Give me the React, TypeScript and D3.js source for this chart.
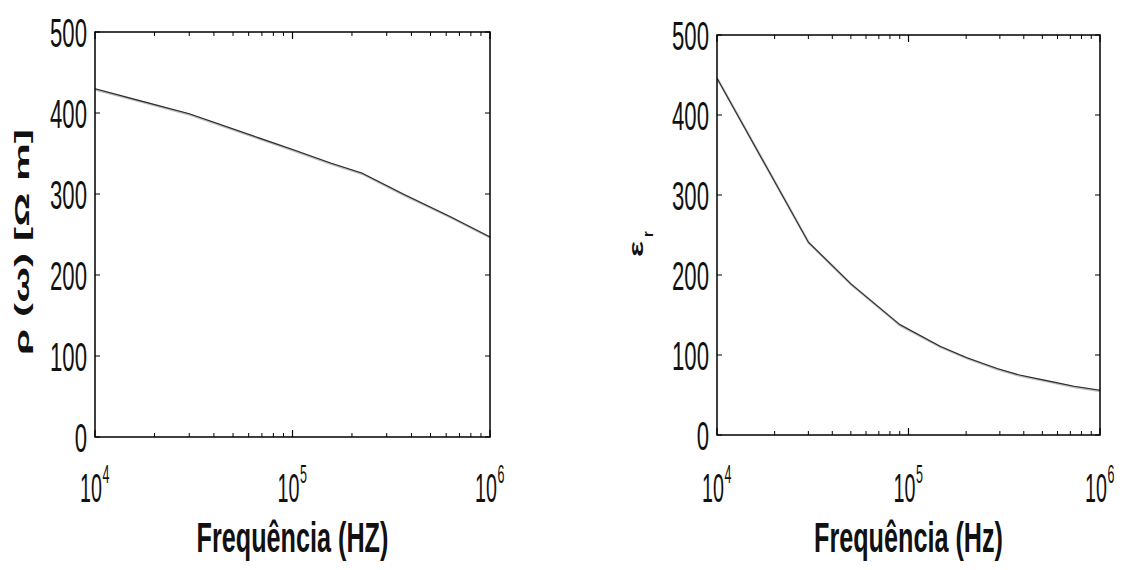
import React from "react";
import * as d3 from "d3";

const freqLeft = [1e4, 1.7e4, 3e4, 6.8e4, 1e5, 1.57e5, 2.24e5, 3.63e5, 6.3e5, 1e6];
const rhoValues = [430, 415, 399, 369, 355, 338, 326, 300, 272, 247];

const freqRight = [1e4, 3e4, 5e4, 9e4, 1.46e5, 2e5, 2.9e5, 3.8e5, 5.5e5, 7.3e5, 1e6];
const epsValues = [446, 241, 189, 138, 111, 97, 83, 75, 67, 61, 56];

const yTicks = [0, 100, 200, 300, 400, 500];
const xMajor = [1e4, 1e5, 1e6];
const xExp = ["4", "5", "6"];

const FONT = "Liberation Sans, Arial, sans-serif";

type PanelProps = {
  left: number; right: number; top: number; bottom: number;
  xs: number[]; ys: number[]; xTitle: string;
};

function Panel({ left, right, top, bottom, xs, ys, xTitle }: PanelProps) {
  const x = d3.scaleLog().domain([1e4, 1e6]).range([left, right]);
  const y = d3.scaleLinear().domain([0, 500]).range([bottom, top]);
  const minor: number[] = [];
  for (const dec of [1e4, 1e5]) for (let k = 2; k <= 9; k++) minor.push(dec * k);
  const line = d3.line<number>().x((_, i) => x(xs[i])).y((d) => y(d));
  const d = line(ys) || "";
  const fs = 41;
  return (
    <g>
      <path d={d} fill="none" stroke="#bdbdbd" strokeWidth={2.4} transform="translate(0.6,0.8)" />
      <path d={d} fill="none" stroke="#2a2a2a" strokeWidth={1.1} />
      <rect x={left} y={top} width={right - left} height={bottom - top} fill="none" stroke="#000" strokeWidth={1.5} />
      {minor.map((v) => (
        <g key={v}>
          <line x1={x(v)} x2={x(v)} y1={bottom} y2={bottom - 4} stroke="#000" />
          <line x1={x(v)} x2={x(v)} y1={top} y2={top + 4} stroke="#000" />
        </g>
      ))}
      {xMajor.map((v) => (
        <g key={v}>
          <line x1={x(v)} x2={x(v)} y1={bottom} y2={bottom - 7} stroke="#000" strokeWidth={1.2} />
          <line x1={x(v)} x2={x(v)} y1={top} y2={top + 7} stroke="#000" strokeWidth={1.2} />
        </g>
      ))}
      {yTicks.map((v) => (
        <g key={v}>
          <line x1={left} x2={left + 5} y1={y(v)} y2={y(v)} stroke="#000" />
          <line x1={right} x2={right - 5} y1={y(v)} y2={y(v)} stroke="#000" />
          <text
            transform={`translate(${left - 8},${y(v) + 14.5}) scale(0.54,1)`}
            textAnchor="end"
            fontFamily={FONT}
            fontSize={fs}
            fill="#111"
          >
            {v}
          </text>
        </g>
      ))}
      {xMajor.map((v, i) => (
        <g key={"l" + v}>
          <text
            transform={`translate(${x(v) - 15},502) scale(0.48,1)`}
            fontFamily={FONT}
            fontSize={fs}
            fill="#111"
          >
            10
          </text>
          <text
            transform={`translate(${x(v) + 7.5},483) scale(0.5,1)`}
            fontFamily={FONT}
            fontSize={25}
            fill="#111"
          >
            {xExp[i]}
          </text>
        </g>
      ))}
      <text
        transform={`translate(${(left + right) / 2},552) scale(0.6,1)`}
        textAnchor="middle"
        fontFamily={FONT}
        fontWeight="bold"
        fontSize={42}
        fill="#111"
      >
        {xTitle}
      </text>
    </g>
  );
}

export default function App() {
  return (
    <svg width={1123} height={570} style={{ position: "absolute", left: 0, top: 0, background: "#fff" }}>
      <rect width={1123} height={570} fill="#fff" />
      <Panel left={95} right={490} top={32} bottom={437} xs={freqLeft} ys={rhoValues} xTitle="Frequência (HZ)" />
      <Panel left={717} right={1100} top={35} bottom={435} xs={freqRight} ys={epsValues} xTitle="Frequência (Hz)" />
      <g transform="translate(29,242) rotate(-90)">
        <text
          textAnchor="middle"
          fontFamily={FONT}
          fontWeight="bold"
          fontSize={21}
          textLength={226}
          lengthAdjust="spacingAndGlyphs"
          fill="#111"
        >
          ρ  (ω)  [Ω m]
        </text>
      </g>
      <g transform="translate(643,257) rotate(-90)">
        <text transform="scale(1.7,1)" fontFamily={FONT} fontWeight="bold" fontSize={20} fill="#111">
          ε
        </text>
        <text x={20} y={10} fontFamily={FONT} fontWeight="bold" fontSize={15} fill="#111">
          r
        </text>
      </g>
    </svg>
  );
}
